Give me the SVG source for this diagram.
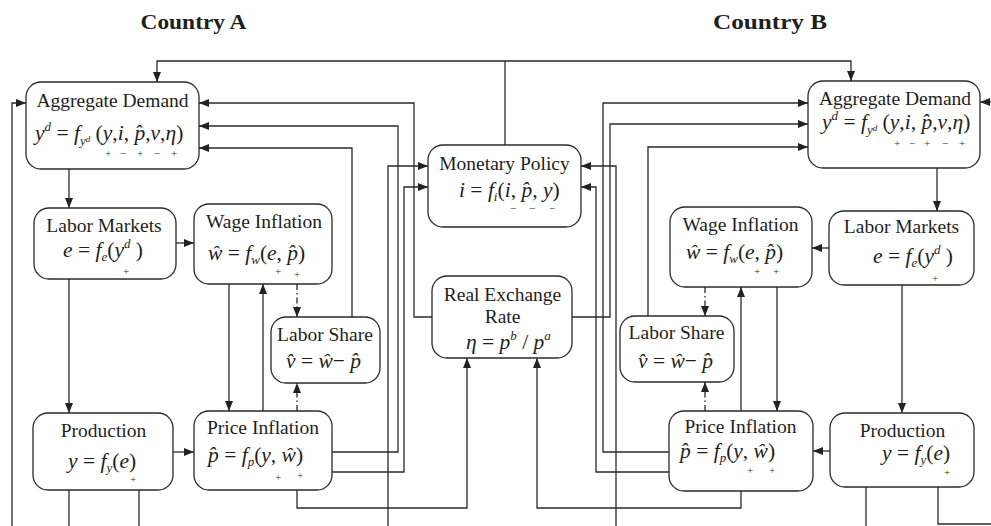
<svg xmlns="http://www.w3.org/2000/svg" width="991" height="526" viewBox="0 0 991 526">
<style>
  .box { fill: #ffffff; stroke: #2a2a2a; stroke-width: 1.3; }
  .ln { fill: none; stroke: #2a2a2a; stroke-width: 1.3; }
  .dd { fill: none; stroke: #2a2a2a; stroke-width: 1.3; stroke-dasharray: 6 3 1.5 3; }
  text { font-family: "Liberation Serif", "Times New Roman", serif; fill: #1e1e1e; }
  .hd { font-size: 20px; font-weight: bold; text-anchor: middle; }
  .tt { font-size: 19.5px; text-anchor: middle; }
  .fx { font-size: 21.5px; }
  .i { font-style: italic; }
  .sp { font-size: 13px; font-style: italic; }
  .sb { font-size: 13px; font-style: italic; }
  .ss { font-size: 9px; font-style: italic; }
  .sg { font-size: 11px; text-anchor: middle; fill: #333; }
</style>
<defs>
  <marker id="ah" markerWidth="10" markerHeight="8" refX="10" refY="4" orient="auto" markerUnits="userSpaceOnUse">
    <path d="M0,0 L10,4 L0,8 z" fill="#222"/>
  </marker>
</defs>

<!-- headings -->
<text class="hd" x="193.5" y="29" textLength="106" lengthAdjust="spacingAndGlyphs">Country A</text>
<text class="hd" x="770" y="29" textLength="114" lengthAdjust="spacingAndGlyphs">Country B</text>

<!-- connectors -->
<g id="connectors">
  <!-- monetary policy bus to both demand blocks -->
  <polyline class="ln" points="505,145 505,61"/>
  <polyline class="ln" points="505,61 157,61 157,82" marker-end="url(#ah)"/>
  <polyline class="ln" points="505,61 851,61 851,81" marker-end="url(#ah)"/>
  <!-- outer feedback lines -->
  <polyline class="ln" points="12,526 12,103 26,103" marker-end="url(#ah)"/>
  <polyline class="ln" points="991,102 980,102" marker-end="url(#ah)"/>

  <!-- country A -->
  <polyline class="ln" points="69,169 69,208" marker-end="url(#ah)"/>
  <polyline class="ln" points="176,243 194,243" marker-end="url(#ah)"/>
  <polyline class="ln" points="69,279 69,413" marker-end="url(#ah)"/>
  <polyline class="ln" points="173,452 194,452" marker-end="url(#ah)"/>
  <polyline class="ln" points="229,284 229,411" marker-end="url(#ah)"/>
  <polyline class="ln" points="263,411 263,284" marker-end="url(#ah)"/>
  <polyline class="dd" points="297,284 297,317" marker-end="url(#ah)"/>
  <polyline class="dd" points="297,411 297,383" marker-end="url(#ah)"/>
  <polyline class="ln" points="352,317 352,148 199,148" marker-end="url(#ah)"/>
  <polyline class="ln" points="432,317 414,317 414,103 199,103" marker-end="url(#ah)"/>
  <polyline class="ln" points="332,452 398,452 398,126 199,126" marker-end="url(#ah)"/>
  <polyline class="ln" points="332,472 404,472 404,187 428,187" marker-end="url(#ah)"/>
  <polyline class="ln" points="388,526 388,166 428,166" marker-end="url(#ah)"/>
  <polyline class="ln" points="297,490 297,508 467,508 467,358" marker-end="url(#ah)"/>
  <polyline class="ln" points="69,490 69,526"/>
  <polyline class="ln" points="139,490 139,526"/>

  <!-- country B -->
  <polyline class="ln" points="937,168 937,211" marker-end="url(#ah)"/>
  <polyline class="ln" points="829,248 812,248" marker-end="url(#ah)"/>
  <polyline class="ln" points="902,285 902,413" marker-end="url(#ah)"/>
  <polyline class="ln" points="830,451 813,451" marker-end="url(#ah)"/>
  <polyline class="ln" points="777,287 777,411" marker-end="url(#ah)"/>
  <polyline class="ln" points="741,411 741,287" marker-end="url(#ah)"/>
  <polyline class="dd" points="705,287 705,316" marker-end="url(#ah)"/>
  <polyline class="dd" points="705,411 705,382" marker-end="url(#ah)"/>
  <polyline class="ln" points="648,316 648,147 808,147" marker-end="url(#ah)"/>
  <polyline class="ln" points="572,317 610,317 610,124 808,124" marker-end="url(#ah)"/>
  <polyline class="ln" points="669,452 603,452 603,103 808,103" marker-end="url(#ah)"/>
  <polyline class="ln" points="669,472 596,472 596,187 581,187" marker-end="url(#ah)"/>
  <polyline class="ln" points="616,526 616,166 581,166" marker-end="url(#ah)"/>
  <polyline class="ln" points="741,491 741,508 537,508 537,358" marker-end="url(#ah)"/>
  <polyline class="ln" points="866,487 866,526"/>
  <polyline class="ln" points="938,487 938,524 991,524"/>
</g>

<!-- Country A nodes -->
<g id="ad-a">
  <rect class="box" x="26" y="82" width="173" height="87" rx="15"/>
  <text class="tt" x="112.5" y="107">Aggregate Demand</text>
  <text class="fx" x="35" y="140"><tspan class="i">y</tspan><tspan class="sp" dy="-9">d</tspan><tspan dy="9"> = </tspan><tspan class="i">f</tspan><tspan class="sb" dy="5">y</tspan><tspan class="ss" dy="-3">d</tspan><tspan dy="-2"> (</tspan><tspan class="i">y</tspan>,<tspan class="i">i</tspan>, <tspan class="i">p&#770;</tspan>,<tspan class="i">v</tspan>,<tspan class="i">η</tspan>)</text>
  <text class="sg" x="108" y="157">+</text><text class="sg" x="123" y="157">−</text><text class="sg" x="140" y="157">+</text><text class="sg" x="157" y="157">−</text><text class="sg" x="174" y="157">+</text>
</g>
<g id="lm-a">
  <rect class="box" x="34" y="208" width="142" height="71" rx="15"/>
  <text class="tt" x="104" y="232">Labor Markets</text>
  <text class="fx" x="63" y="257"><tspan class="i">e</tspan> = <tspan class="i">f</tspan><tspan class="sb" dy="4">e</tspan><tspan dy="-4">(</tspan><tspan class="i">y</tspan><tspan class="sp" dy="-9">d</tspan><tspan dy="9"> )</tspan></text>
  <text class="sg" x="126" y="275">+</text>
</g>
<g id="wi-a">
  <rect class="box" x="194" y="204" width="138" height="80" rx="15"/>
  <text class="tt" x="264" y="228">Wage Inflation</text>
  <text class="fx" x="208" y="260"><tspan class="i">ŵ</tspan> = <tspan class="i">f</tspan><tspan class="sb" dy="4">w</tspan><tspan dy="-4">(</tspan><tspan class="i">e</tspan>, <tspan class="i">p&#770;</tspan>)</text>
  <text class="sg" x="278" y="275">+</text><text class="sg" x="297" y="278">+</text>
</g>
<g id="ls-a">
  <rect class="box" x="271" y="317" width="109" height="66" rx="15"/>
  <text class="tt" x="325" y="341">Labor Share</text>
  <text class="fx" x="286" y="368"><tspan class="i">v&#770;</tspan> = <tspan class="i">ŵ</tspan>− <tspan class="i">p&#770;</tspan></text>
</g>
<g id="pr-a">
  <rect class="box" x="33" y="413" width="140" height="77" rx="15"/>
  <text class="tt" x="103.5" y="437">Production</text>
  <text class="fx" x="68" y="468"><tspan class="i">y</tspan> = <tspan class="i">f</tspan><tspan class="sb" dy="4">y</tspan><tspan dy="-4">(</tspan><tspan class="i">e</tspan>)</text>
  <text class="sg" x="133" y="483">+</text>
</g>
<g id="pi-a">
  <rect class="box" x="194" y="411" width="138" height="79" rx="15"/>
  <text class="tt" x="263" y="434">Price Inflation</text>
  <text class="fx" x="208" y="462"><tspan class="i">p&#770;</tspan> = <tspan class="i">f</tspan><tspan class="sb" dy="4">p</tspan><tspan dy="-4">(</tspan><tspan class="i">y</tspan>, <tspan class="i">ŵ</tspan>)</text>
  <text class="sg" x="278" y="481">+</text><text class="sg" x="300" y="479">+</text>
</g>

<!-- shared nodes -->
<g id="monetary-policy">
  <rect class="box" x="428" y="145" width="153" height="82" rx="15"/>
  <text class="tt" x="504.5" y="170">Monetary Policy</text>
  <text class="fx" x="459" y="197"><tspan class="i">i</tspan> = <tspan class="i">f</tspan><tspan class="sb" dy="4">i</tspan><tspan dy="-4">(</tspan><tspan class="i">i</tspan>, <tspan class="i">p&#770;</tspan>, <tspan class="i">y</tspan>)</text>
  <text class="sg" x="513" y="212">−</text><text class="sg" x="532" y="212">−</text><text class="sg" x="552" y="212">−</text>
</g>
<g id="real-exchange-rate">
  <rect class="box" x="432" y="276" width="140" height="82" rx="15"/>
  <text class="tt" x="502.5" y="301">Real Exchange</text>
  <text class="tt" x="502.5" y="323">Rate</text>
  <text class="fx" x="466" y="349"><tspan class="i">η</tspan> = <tspan class="i">p</tspan><tspan class="sp" dy="-9">b</tspan><tspan dy="9"> / </tspan><tspan class="i">p</tspan><tspan class="sp" dy="-9">a</tspan></text>
</g>

<!-- Country B nodes -->
<g id="ad-b">
  <rect class="box" x="808" y="81" width="172" height="87" rx="15"/>
  <text class="tt" x="895" y="105">Aggregate Demand</text>
  <text class="fx" x="822" y="129"><tspan class="i">y</tspan><tspan class="sp" dy="-9">d</tspan><tspan dy="9"> = </tspan><tspan class="i">f</tspan><tspan class="sb" dy="5">y</tspan><tspan class="ss" dy="-3">d</tspan><tspan dy="-2"> (</tspan><tspan class="i">y</tspan>,<tspan class="i">i</tspan>, <tspan class="i">p&#770;</tspan>,<tspan class="i">v</tspan>,<tspan class="i">η</tspan>)</text>
  <text class="sg" x="897" y="147">+</text><text class="sg" x="912" y="147">−</text><text class="sg" x="927" y="147">+</text><text class="sg" x="945" y="147">−</text><text class="sg" x="962" y="147">+</text>
</g>
<g id="lm-b">
  <rect class="box" x="829" y="211" width="145" height="74" rx="15"/>
  <text class="tt" x="901.5" y="233">Labor Markets</text>
  <text class="fx" x="873" y="263"><tspan class="i">e</tspan> = <tspan class="i">f</tspan><tspan class="sb" dy="4">e</tspan><tspan dy="-4">(</tspan><tspan class="i">y</tspan><tspan class="sp" dy="-9">d</tspan><tspan dy="9"> )</tspan></text>
  <text class="sg" x="935" y="282">+</text>
</g>
<g id="wi-b">
  <rect class="box" x="670" y="207" width="142" height="80" rx="15"/>
  <text class="tt" x="740.5" y="231">Wage Inflation</text>
  <text class="fx" x="686" y="259"><tspan class="i">ŵ</tspan> = <tspan class="i">f</tspan><tspan class="sb" dy="4">w</tspan><tspan dy="-4">(</tspan><tspan class="i">e</tspan>, <tspan class="i">p&#770;</tspan>)</text>
  <text class="sg" x="757" y="275">+</text><text class="sg" x="776" y="275">+</text>
</g>
<g id="ls-b">
  <rect class="box" x="620" y="316" width="114" height="66" rx="15"/>
  <text class="tt" x="676.5" y="339">Labor Share</text>
  <text class="fx" x="638" y="368"><tspan class="i">v&#770;</tspan> = <tspan class="i">ŵ</tspan>− <tspan class="i">p&#770;</tspan></text>
</g>
<g id="pi-b">
  <rect class="box" x="669" y="411" width="144" height="80" rx="15"/>
  <text class="tt" x="740.5" y="433">Price Inflation</text>
  <text class="fx" x="680" y="458"><tspan class="i">p&#770;</tspan> = <tspan class="i">f</tspan><tspan class="sb" dy="4">p</tspan><tspan dy="-4">(</tspan><tspan class="i">y</tspan>, <tspan class="i">ŵ</tspan>)</text>
  <text class="sg" x="750" y="474">+</text><text class="sg" x="772" y="474">+</text>
</g>
<g id="pr-b">
  <rect class="box" x="830" y="413" width="144" height="74" rx="15"/>
  <text class="tt" x="902.5" y="437">Production</text>
  <text class="fx" x="882" y="460"><tspan class="i">y</tspan> = <tspan class="i">f</tspan><tspan class="sb" dy="4">y</tspan><tspan dy="-4">(</tspan><tspan class="i">e</tspan>)</text>
  <text class="sg" x="947" y="476">+</text>
</g>
</svg>
